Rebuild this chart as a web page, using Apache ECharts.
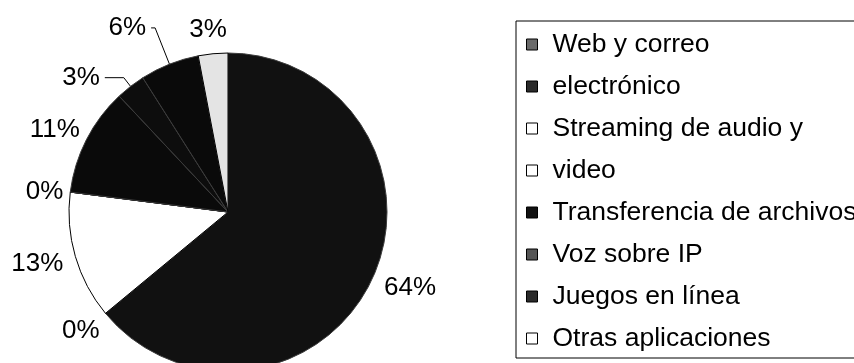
<!DOCTYPE html>
<html>
<head>
<meta charset="utf-8">
<script src="https://cdn.jsdelivr.net/npm/echarts@6/dist/echarts.min.js"></script>
<style>
html,body{margin:0;padding:0;background:#fff;}
#chart{width:854px;height:363px;}
</style>
</head>
<body>
<div id="chart"></div>
<script>
// ---- data ----
var categories = ['Web y correo', 'electrónico', 'Streaming de audio y', 'video', 'Transferencia de archivos', 'Voz sobre IP', 'Juegos en línea', 'Otras aplicaciones'];
var values = [64, 0, 13, 0, 11, 3, 6, 3];

// ---- styles ----
var sliceColors = ['#111111', '#1a1a1a', '#ffffff', '#ffffff', '#0a0a0a', '#0d0d0d', '#0a0a0a', '#e4e4e4'];
var sliceBorders = ['#3c3c3c', '#3c3c3c', '#000000', '#000000', '#3c3c3c', '#3c3c3c', '#3c3c3c', '#000000'];
var legendIconColors = ['#6a6a6a', '#2a2a2a', '#ffffff', '#ffffff', '#111111', '#555555', '#2a2a2a', '#ffffff'];
var labelLineShow = [false, false, false, false, false, true, true, false];
var labelLineLen = [19, 27, 27, 0, 23, 11, 39, 24];
var labelLineLen2 = [-10, -20, -19, 2, -19, 19, 4, -21];

var FONT = '"Liberation Sans", Arial, sans-serif';

var pieData = categories.map(function (name, i) {
  return {
    name: name,
    value: values[i],
    itemStyle: { color: sliceColors[i], borderColor: sliceBorders[i], borderWidth: 1 },
    labelLine: { show: labelLineShow[i], length: labelLineLen[i], length2: labelLineLen2[i] }
  };
});

var legendData = categories.map(function (name, i) {
  return { name: name, itemStyle: { color: legendIconColors[i], borderColor: '#000', borderWidth: 1 } };
});

var chart = echarts.init(document.getElementById('chart'), null, { renderer: 'canvas' });
chart.setOption({
  animation: false,
  backgroundColor: '#ffffff',
  legend: {
    orient: 'vertical',
    left: 516,
    top: 21,
    data: legendData,
    icon: 'rect',
    itemWidth: 11,
    itemHeight: 11,
    itemGap: 15,
    padding: [10, 12, 6, 10],
    borderColor: '#000',
    borderWidth: 1,
    selectedMode: false,
    itemStyle: { borderColor: '#000', borderWidth: 1 },
    textStyle: {
      fontFamily: FONT,
      fontSize: 26.5,
      lineHeight: 26,
      color: '#000',
      padding: [0, 0, 0, 10]
    }
  },
  series: [{
    type: 'pie',
    center: [228, 212],
    radius: 159,
    startAngle: 90,
    clockwise: true,
    avoidLabelOverlap: false,
    silent: true,
    data: pieData,
    label: {
      show: true,
      position: 'outside',
      fontFamily: FONT,
      fontSize: 26,
      color: '#000',
      distanceToLabelLine: 5,
      formatter: function (p) { return Math.round(p.percent) + '%'; }
    },
    labelLine: {
      lineStyle: { color: '#000', width: 1 }
    }
  }]
});
</script>
</body>
</html>
